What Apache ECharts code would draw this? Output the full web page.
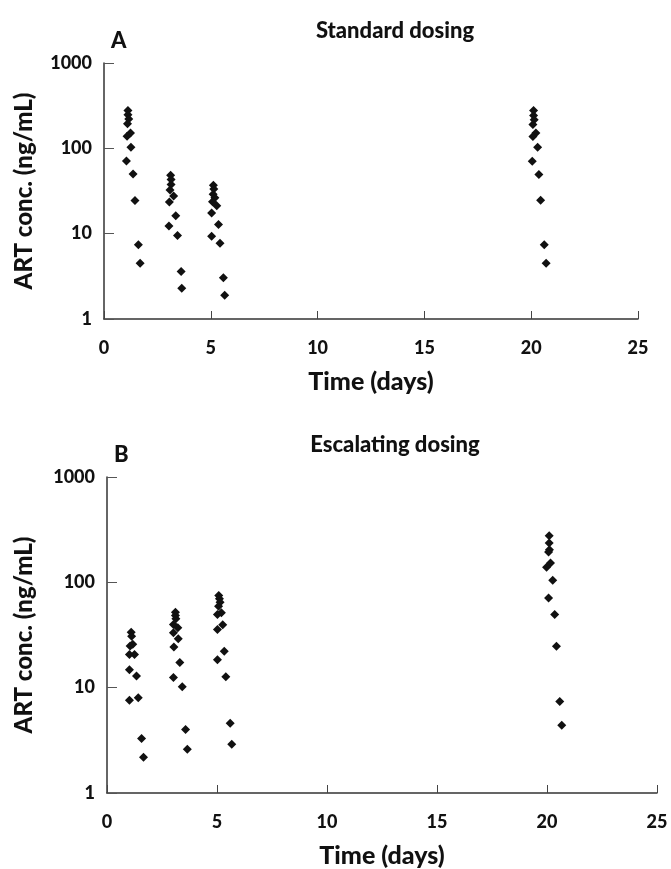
<!DOCTYPE html>
<html>
<head>
<meta charset="utf-8">
<title>ART concentrations</title>
<script src="https://cdn.jsdelivr.net/npm/echarts@6/dist/echarts.min.js"></script>
<style>
  html, body { margin: 0; padding: 0; background: #fff; }
  #chart { width: 671px; height: 869px; }
</style>
</head>
<body>
<div id="chart"></div>
<script>
// panel titles
const panelTitles = ['Standard dosing', 'Escalating dosing']
const panelLetters = ['A', 'B']
const yTickLabels = ['1', '10', '100', '1000']
const xTicks = [0, 5, 10, 15, 20, 25]

// A - standard dosing, [day, ng/mL]
const stdDose1 = [[1.12, 277], [1.12, 248], [1.16, 221], [1.10, 194], [1.24, 151], [1.08, 139],
  [1.26, 103], [1.05, 71], [1.36, 50], [1.45, 24.4], [1.61, 7.4], [1.69, 4.5]]
const stdDose2 = [[3.12, 48.5], [3.14, 43], [3.14, 37.8], [3.09, 32.5], [3.26, 27.7], [3.06, 23.5],
  [3.36, 16.2], [3.04, 12.3], [3.44, 9.5], [3.61, 3.6], [3.64, 2.3]]
const stdDose3 = [[5.12, 37], [5.14, 33.4], [5.11, 29], [5.19, 26.4], [5.08, 23.7], [5.28, 21.3],
  [5.04, 17.5], [5.36, 12.8], [5.04, 9.3], [5.43, 7.7], [5.59, 3.05], [5.65, 1.9]]
const stdDose4 = [[20.11, 277], [20.11, 242], [20.14, 216], [20.08, 190], [20.22, 151], [20.08, 138],
  [20.30, 103], [20.05, 70.6], [20.36, 49.4], [20.44, 24.7], [20.61, 7.4], [20.70, 4.5]]

// B - escalating dosing
const escDose1 = [[1.10, 33.6], [1.12, 30.8], [1.17, 25.8], [1.05, 24.8], [1.25, 20.6], [1.02, 20.6],
  [1.02, 14.8], [1.34, 12.9], [1.42, 8.0], [1.02, 7.6], [1.57, 3.3], [1.66, 2.18]]
const escDose2 = [[3.11, 52], [3.11, 48.4], [3.13, 45], [3.02, 39.8], [3.22, 37], [3.02, 33.2],
  [3.24, 29.1], [3.04, 24.3], [3.31, 17.3], [3.02, 12.5], [3.42, 10.2], [3.57, 4.0], [3.65, 2.6]]
const escDose3 = [[5.08, 74.8], [5.11, 69.7], [5.14, 64.8], [5.07, 59.3], [5.20, 51.3], [5.02, 49.4],
  [5.26, 39.5], [5.02, 35.7], [5.33, 22.2], [5.02, 18.4], [5.40, 12.7], [5.60, 4.6], [5.67, 2.9]]
const escDose4 = [[20.10, 277], [20.10, 236], [20.11, 204], [20.07, 194], [20.16, 153], [19.98, 139],
  [20.26, 104.5], [20.07, 71], [20.35, 49.4], [20.43, 24.7], [20.58, 7.4], [20.67, 4.4]]

const panelData = [
  [stdDose1, stdDose2, stdDose3, stdDose4],
  [escDose1, escDose2, escDose3, escDose4]
]

const font = 'Lato, "Open Sans", sans-serif'
const ink = '#111'
const grids = [
  { left: 104, top: 63, width: 534, height: 256 },
  { left: 107, top: 477, width: 550, height: 316 }
]

const chart = echarts.init(document.getElementById('chart'))

const title = []
panelTitles.forEach((t, i) => {
  const g = grids[i]
  title.push({
    text: t, left: 390, top: g.top - 48, textAlign: 'center',
    textStyle: { fontFamily: font, fontWeight: 900, fontSize: 22, color: ink }
  })
  title.push({
    text: panelLetters[i], left: g.left + 2, top: g.top - 38,
    textStyle: { fontFamily: font, fontWeight: 900, fontSize: 22, color: ink }
  })
})

const xAxis = grids.map((g, i) => ({
  type: 'value', gridIndex: i, min: 0, max: 25, interval: 5,
  name: 'Time (days)', nameLocation: 'middle', nameGap: 50,
  nameTextStyle: { fontFamily: font, fontWeight: 900, fontSize: 25, color: ink },
  axisLine: { lineStyle: { color: '#333', width: 1.5 } },
  axisTick: { inside: true, length: 8, lineStyle: { color: '#444' } },
  axisLabel: { margin: 20, fontFamily: font, fontWeight: 900, fontSize: 18, color: ink,
    formatter: v => (xTicks.indexOf(v) >= 0 ? String(v) : '') },
  splitLine: { show: false }
}))

const yAxis = grids.map((g, i) => ({
  type: 'log', logBase: 10, gridIndex: i, min: 1, max: 1000,
  name: 'ART conc. (ng/mL)', nameLocation: 'middle', nameRotate: 90, nameGap: g.left - 36,
  nameTextStyle: { fontFamily: font, fontWeight: 900, fontSize: 24, color: ink },
  axisLine: { show: true, lineStyle: { color: '#333', width: 1.5 } },
  axisTick: { show: true, inside: true, length: 10, lineStyle: { color: '#555' } },
  axisLabel: { margin: 12, fontFamily: font, fontWeight: 900, fontSize: 18, color: ink,
    formatter: v => (yTickLabels.indexOf(String(Math.round(v))) >= 0 ? String(Math.round(v)) : '') },
  minorTick: { show: false },
  splitLine: { show: false }
}))

const series = []
panelData.forEach((doses, i) => {
  doses.forEach(d => {
    series.push({
      type: 'scatter', xAxisIndex: i, yAxisIndex: i, data: d,
      symbol: 'diamond', symbolSize: 9,
      itemStyle: { color: ink, opacity: 1 }
    })
  })
})

chart.setOption({
  animation: false,
  title: title,
  grid: grids,
  xAxis: xAxis,
  yAxis: yAxis,
  series: series
})
</script>
</body>
</html>
